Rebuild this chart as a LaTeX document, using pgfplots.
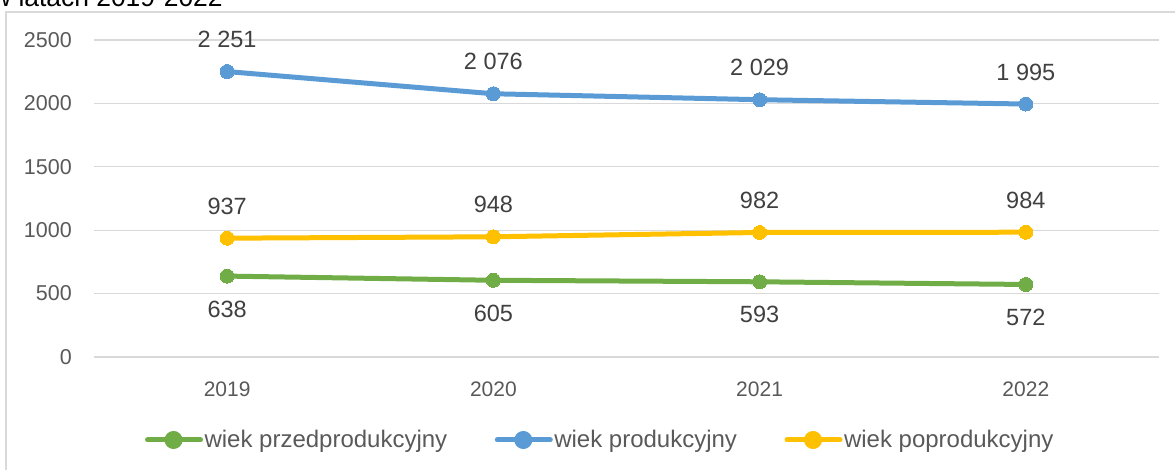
\documentclass[border=0pt]{standalone}
\usepackage{fontspec}
\setmainfont{Liberation Sans}
\usepackage{pgfplots}
\pgfplotsset{compat=1.18}
\definecolor{cgreen}{HTML}{70AD47}
\definecolor{cblue}{HTML}{5B9BD5}
\definecolor{cyellow}{HTML}{FFC000}
\definecolor{gridgray}{HTML}{D9D9D9}
\definecolor{ticktext}{HTML}{595959}
\definecolor{labtext}{HTML}{404040}
\begin{document}
\begin{tikzpicture}[x=1pt,y=1pt]
\useasboundingbox (0,0) rectangle (1175,470);
\draw[color=gridgray, line width=1.3pt] (6,-2) -- (6,458) -- (1180,458);
\node[anchor=base west, inner sep=0pt, font=\fontsize{26.4}{30}\selectfont, text=black] at (-8,463) {w latach 2019-2022};
\begin{axis}[
  at={(94pt,113pt)}, anchor=south west,
  width=1065pt, height=317pt, scale only axis,
  xmin=-0.5, xmax=3.5, ymin=0, ymax=2500,
  axis line style={draw=none},
  tick style={draw=none},
  xtick={0,1,2,3}, xticklabels={2019,2020,2021,2022},
  ytick={0,500,1000,1500,2000,2500},
  ymajorgrids, major grid style={color=gridgray, line width=1.3pt},
  /pgf/number format/assume math mode=true,
  /pgf/number format/1000 sep={},
  yticklabel style={font=\fontsize{21.5}{24}\selectfont, text=ticktext, anchor=east, inner sep=0pt, xshift=-22pt},
  xticklabel style={font=\fontsize{21}{24}\selectfont, text=ticktext, anchor=center, inner sep=0pt, yshift=-32pt},
  clip=false,
  nodes near coords,
  point meta=explicit symbolic,
  every node near coord/.append style={font=\fontsize{23.5}{26}\selectfont, text=labtext, anchor=center, inner sep=0pt},
  legend columns=3,
  legend style={at={(506pt,-83pt)}, anchor=center, draw=none, fill=none,
    font=\fontsize{24}{27}\selectfont, text=ticktext,
    nodes={inner sep=1.5pt},
    /tikz/every even column/.append style={column sep=46pt},
    inner sep=0pt},
  legend cell align=left,
  legend image code/.code={
    \draw[line width=5pt, line cap=round] (2pt,0pt) -- (55pt,0pt);
    \fill (28pt,0pt) circle (6.5pt);
  },
  every axis plot/.append style={line width=5pt, mark=*, mark size=7pt, line join=round},
]
\addplot[color=cgreen, mark options={fill=cgreen, draw=cgreen, line width=0pt}, every node near coord/.append style={yshift=-33pt}]
  coordinates {(0,638) [638] (1,605) [605] (2,593) [593] (3,572) [572]};
\addlegendentry{wiek przedprodukcyjny}
\addplot[color=cblue, mark options={fill=cblue, draw=cblue, line width=0pt}, every node near coord/.append style={yshift=32pt}]
  coordinates {(0,2251) [2 251] (1,2076) [2 076] (2,2029) [2 029] (3,1995) [1 995]};
\addlegendentry{wiek produkcyjny}
\addplot[color=cyellow, mark options={fill=cyellow, draw=cyellow, line width=0pt}, every node near coord/.append style={yshift=32pt}]
  coordinates {(0,937) [937] (1,948) [948] (2,982) [982] (3,984) [984]};
\addlegendentry{wiek poprodukcyjny}
\end{axis}
\end{tikzpicture}
\end{document}
